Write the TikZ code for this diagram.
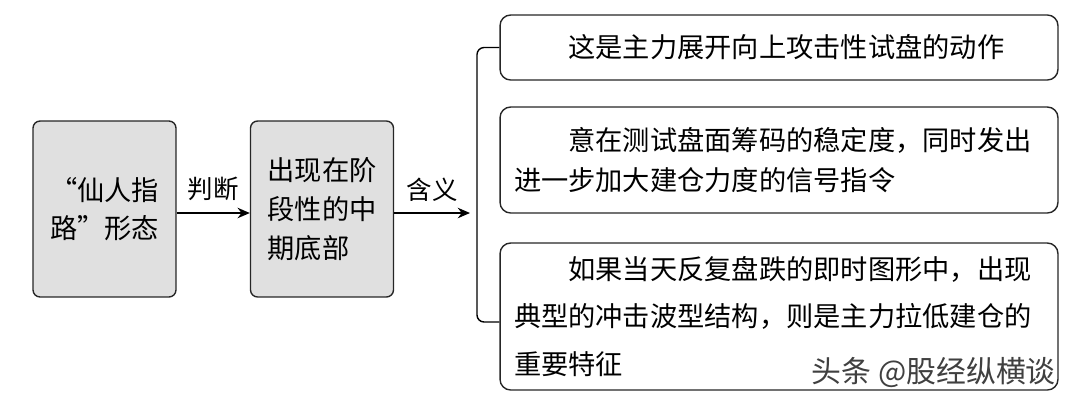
\documentclass[tikz,border=0pt]{standalone}
\usepackage{fontspec}
\setmainfont{Noto Sans CJK SC}
\usetikzlibrary{arrows.meta,positioning}
\tikzset{
  grau/.style={draw=black!85,fill=black!12,rounded corners=4pt,line width=0.8pt,minimum width=2.86cm,minimum height=3.52cm,font=\fontsize{15.5}{22}\selectfont},
  weiss/.style={draw=black!85,fill=white,rounded corners=6pt,line width=0.8pt,minimum width=11.16cm,font=\fontsize{15.5}{23}\selectfont,text width=10.6cm,align=left},
  pfeil/.style={line width=0.8pt,-{Stealth[length=7pt,width=6pt]}}
}
\begin{document}
\begin{tikzpicture}[x=0.02cm,y=-0.02cm]
\useasboundingbox (0,0) rectangle (1074,400);
% linke Kaesten
\node[grau,align=center] (form) at (104.5,209) {“仙人指\\路”形态};
\node[grau,align=left] (boden) at (322,209) {出现在阶\\段性的中\\期底部};
% rechte Kaesten
\node[weiss,minimum height=1.3cm] (sinn1) at (779,47.5) {\hspace*{2em}这是主力展开向上攻击性试盘的动作};
\node[weiss,minimum height=2.12cm] (sinn2) at (779,160) {\hspace*{2em}意在测试盘面筹码的稳定度，同时发出\\进一步加大建仓力度的信号指令};
\node[weiss,minimum height=2.94cm] (sinn3) at (779,316.5) {\hspace*{2em}如果当天反复盘跌的即时图形中，出现\\[4pt]典型的冲击波型结构，则是主力拉低建仓的\\[4pt]重要特征};
% Pfeile
\coordinate (ziel) at (470,213);
\draw[pfeil] (form.east |- 0,213) -- node[above=3pt,font=\fontsize{14.5}{16}\selectfont] {判断} (boden.west |- 0,213);
\draw[pfeil] (boden.east |- 0,213) -- node[above=3pt,font=\fontsize{14.5}{16}\selectfont] {含义} (ziel);
% Klammer
\coordinate (kl) at (477,0);
\draw[line width=0.8pt,rounded corners=4pt] (sinn1.west) -| (kl |- 0,322) -- (sinn3.west |- 0,322);
% Wasserzeichen
\node[font=\fontsize{17}{20}\selectfont,text=black!75,anchor=east] (wz) at (1062,372) {头条 @股经纵横谈};
\end{tikzpicture}
\end{document}
